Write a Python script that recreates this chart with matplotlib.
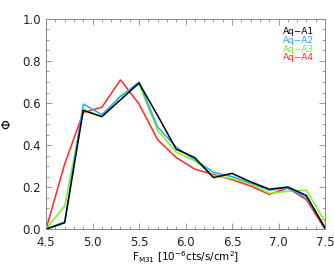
import numpy as np
import matplotlib
matplotlib.use('Agg')
import matplotlib.pyplot as plt
from matplotlib.ticker import MultipleLocator

# flux bins
flux = [4.5, 4.7, 4.9, 5.1, 5.3, 5.5, 5.7, 5.9, 6.1, 6.3, 6.5, 6.7, 6.9, 7.1, 7.3, 7.5]

aqA1 = [0.0, 0.03, 0.565, 0.535, 0.615, 0.695, 0.54, 0.38, 0.34, 0.245, 0.265, 0.225, 0.19, 0.2, 0.16, 0.005]
aqA2 = [0.0, 0.035, 0.595, 0.545, 0.63, 0.70, 0.485, 0.39, 0.33, 0.27, 0.25, 0.22, 0.185, 0.195, 0.15, 0.01]
aqA3 = [0.0, 0.11, 0.57, 0.535, 0.635, 0.69, 0.47, 0.365, 0.325, 0.255, 0.24, 0.215, 0.17, 0.18, 0.185, 0.035]
aqA4 = [0.0, 0.31, 0.555, 0.58, 0.71, 0.595, 0.425, 0.34, 0.285, 0.26, 0.235, 0.205, 0.165, 0.195, 0.14, 0.0]

labels = ['Aq\u2212A1', 'Aq\u2212A2', 'Aq\u2212A3', 'Aq\u2212A4']
colors = ['black', '#28a8ff', '#80f020', '#ff2828']
series = [aqA4, aqA3, aqA2, aqA1]

fig = plt.figure(figsize=(3.34, 2.67), dpi=100)
ax = fig.add_axes([0.138, 0.142, 0.835, 0.787])

for ys, c in zip(series, colors[::-1]):
    ax.plot(flux, ys, color=c, linewidth=1.1)

ax.set_xlim(4.5, 7.5)
ax.set_ylim(0, 1.0)
ax.xaxis.set_major_locator(MultipleLocator(0.5))
ax.xaxis.set_minor_locator(MultipleLocator(0.1))
ax.yaxis.set_major_locator(MultipleLocator(0.2))
ax.yaxis.set_minor_locator(MultipleLocator(0.05))
ax.xaxis.set_major_formatter(matplotlib.ticker.FormatStrFormatter('%.1f'))
ax.yaxis.set_major_formatter(matplotlib.ticker.FormatStrFormatter('%.1f'))
ax.tick_params(which='both', direction='in', top=True, right=True, colors='#888888',
               labelcolor='#222222', labelsize=8.5, width=0.6)
ax.tick_params(which='major', length=4)
ax.tick_params(which='minor', length=2)
ax.tick_params(axis='x', pad=5)
for s in ax.spines.values():
    s.set_color('#888888')
    s.set_linewidth(0.7)

ax.set_xlabel(r'F$_{\rm M31}$ [10$^{-6}$cts/s/cm$^{2}$]', fontsize=7.5, labelpad=0)
ax.set_ylabel(r'$\Phi$', fontsize=9, labelpad=6)

for i, (lab, c) in enumerate(zip(labels, colors)):
    ax.text(0.848, 0.938 - i * 0.041, lab, color=c, fontsize=6.5, transform=ax.transAxes,
            ha='left', va='center')

fig.savefig('out.png', dpi=100)
